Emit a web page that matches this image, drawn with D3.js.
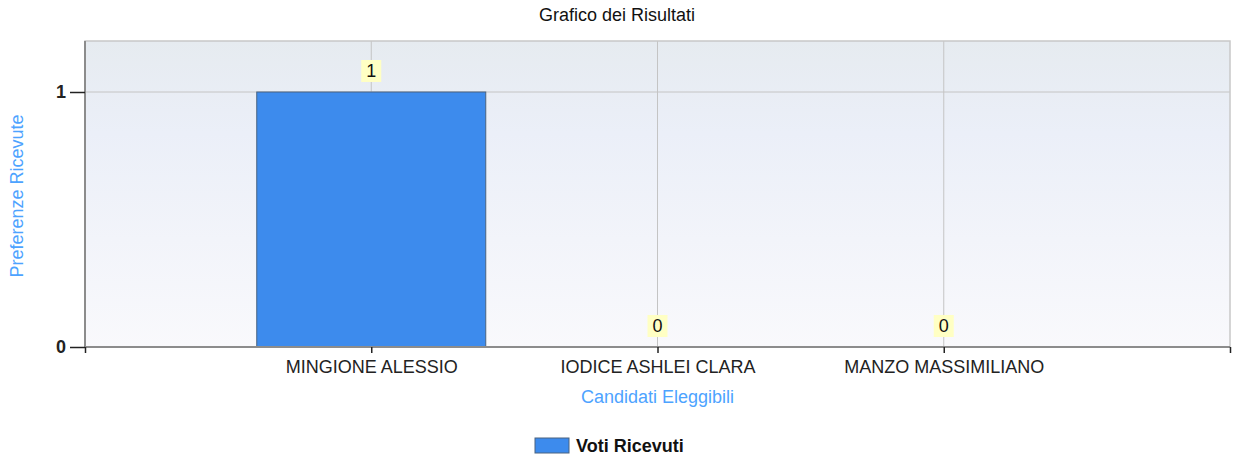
<!DOCTYPE html>
<html lang="it">
<head>
    <meta charset="UTF-8">
    <title>Grafico dei Risultati</title>
    <script src="https://d3js.org/d3.v7.min.js"></script>
    <style>
        body { margin: 0; background: #fff; }
        svg { font-family: "Liberation Sans", Arial, sans-serif; }
    </style>
</head>
<body>
    <svg id="chart"></svg>
    <script>
        // Data
        const candidati = ["MINGIONE ALESSIO", "IODICE ASHLEI CLARA", "MANZO MASSIMILIANO"];
        const voti = [1, 0, 0];
        const yTicks = [0, 1];

        const width = 1234, height = 461;
        const margin = {top: 41, right: 4, bottom: 114, left: 85};
        const innerW = width - margin.left - margin.right;
        const innerH = height - margin.top - margin.bottom;
        const fs = 18;

        const svg = d3.select("#chart").attr("width", width).attr("height", height);

        // background gradient
        const defs = svg.append("defs");
        const grad = defs.append("linearGradient").attr("id", "bg")
            .attr("x1", 0).attr("y1", 0).attr("x2", 0).attr("y2", 1);
        grad.append("stop").attr("offset", "0%").attr("stop-color", "#e6ebf0");
        grad.append("stop").attr("offset", "30%").attr("stop-color", "#ebeff8");
        grad.append("stop").attr("offset", "100%").attr("stop-color", "#f9f9fc");

        // x is a linear axis, categories at 1..n
        const x = d3.scaleLinear().domain([0, candidati.length + 1]).range([0, innerW]);
        const y = d3.scaleLinear().domain([0, 1.2]).range([innerH, 0]);

        const g = svg.append("g").attr("transform", `translate(${margin.left},${margin.top})`);

        g.append("rect").attr("width", innerW).attr("height", innerH).attr("fill", "url(#bg)");

        // gridlines
        g.selectAll(".vgrid").data(candidati).enter().append("line")
            .attr("x1", (d, i) => x(i + 1)).attr("x2", (d, i) => x(i + 1))
            .attr("y1", 0).attr("y2", innerH)
            .attr("stroke", "#c4c4c4").attr("stroke-width", 1);
        g.selectAll(".hgrid").data(yTicks.filter(d => d > 0)).enter().append("line")
            .attr("x1", 0).attr("x2", innerW)
            .attr("y1", d => y(d)).attr("y2", d => y(d))
            .attr("stroke", "#c4c4c4").attr("stroke-width", 1);

        // plot border (top, right)
        g.append("rect").attr("width", innerW).attr("height", innerH)
            .attr("fill", "none").attr("stroke", "#c8c8c8").attr("stroke-width", 1.5);

        // bars
        const barW = (x(1) - x(0)) * 0.8;
        g.selectAll(".bar").data(voti).enter().append("rect")
            .attr("x", (d, i) => x(i + 1) - barW / 2)
            .attr("y", d => y(d))
            .attr("width", barW)
            .attr("height", d => innerH - y(d))
            .attr("fill", "#3d8bed")
            .attr("stroke", "#4a6380").attr("stroke-width", 1);

        // value labels
        const lab = g.selectAll(".vlab").data(voti).enter().append("g")
            .attr("transform", (d, i) => `translate(${x(i + 1)},${y(d) - 21})`);
        lab.append("rect").attr("x", -10).attr("y", -11).attr("width", 20).attr("height", 22)
            .attr("fill", "#ffffc4");
        lab.append("text").attr("text-anchor", "middle").attr("dy", "0.36em")
            .attr("font-size", fs).attr("fill", "#111").text(d => d);

        // y axis
        const yAxis = g.append("g").call(d3.axisLeft(y).tickValues(yTicks).tickSize(15).tickPadding(4)
            .tickFormat(d3.format("d")));
        yAxis.select(".domain").attr("stroke", "#8c8c8c").attr("stroke-width", 2).attr("d", `M0,0V${innerH}`);
        yAxis.selectAll(".tick line").attr("stroke", "#222").attr("stroke-width", 1.5);
        yAxis.selectAll(".tick text").attr("font-size", fs).attr("font-weight", "bold").attr("fill", "#222")
            .attr("font-family", "Liberation Sans, Arial, sans-serif");

        // x axis
        const xTickVals = d3.range(0, candidati.length + 2);
        const xAxis = g.append("g").attr("transform", `translate(0,${innerH})`)
            .call(d3.axisBottom(x).tickValues(xTickVals).tickSize(6).tickPadding(7)
                .tickFormat(d => (d >= 1 && d <= candidati.length) ? candidati[d - 1] : ""));
        xAxis.select(".domain").attr("stroke", "#8c8c8c").attr("stroke-width", 2).attr("d", `M0,0H${innerW}`);
        xAxis.selectAll(".tick line").attr("stroke", "#222").attr("stroke-width", 1.5);
        xAxis.selectAll(".tick text").attr("font-size", fs).attr("fill", "#222")
            .attr("font-family", "Liberation Sans, Arial, sans-serif");

        // titles
        svg.append("text").attr("x", 617).attr("y", 21).attr("text-anchor", "middle")
            .attr("font-size", fs).attr("fill", "#111").text("Grafico dei Risultati");
        svg.append("text").attr("x", margin.left + x(2)).attr("y", 403).attr("text-anchor", "middle")
            .attr("font-size", fs).attr("fill", "#4da3ff").text("Candidati Eleggibili");
        svg.append("text").attr("transform", `translate(23,${margin.top + innerH / 2 + 2}) rotate(-90)`)
            .attr("text-anchor", "middle").attr("font-size", fs).attr("fill", "#4da3ff")
            .text("Preferenze Ricevute");

        // legend
        const leg = svg.append("g").attr("transform", "translate(535,438)");
        leg.append("rect").attr("width", 34).attr("height", 15).attr("fill", "#3d8bed")
            .attr("stroke", "#4a6380").attr("stroke-width", 1);
        leg.append("text").attr("x", 41).attr("y", 14).attr("font-size", fs).attr("font-weight", "bold")
            .attr("fill", "#111").text("Voti Ricevuti");
    </script>
</body>
</html>
